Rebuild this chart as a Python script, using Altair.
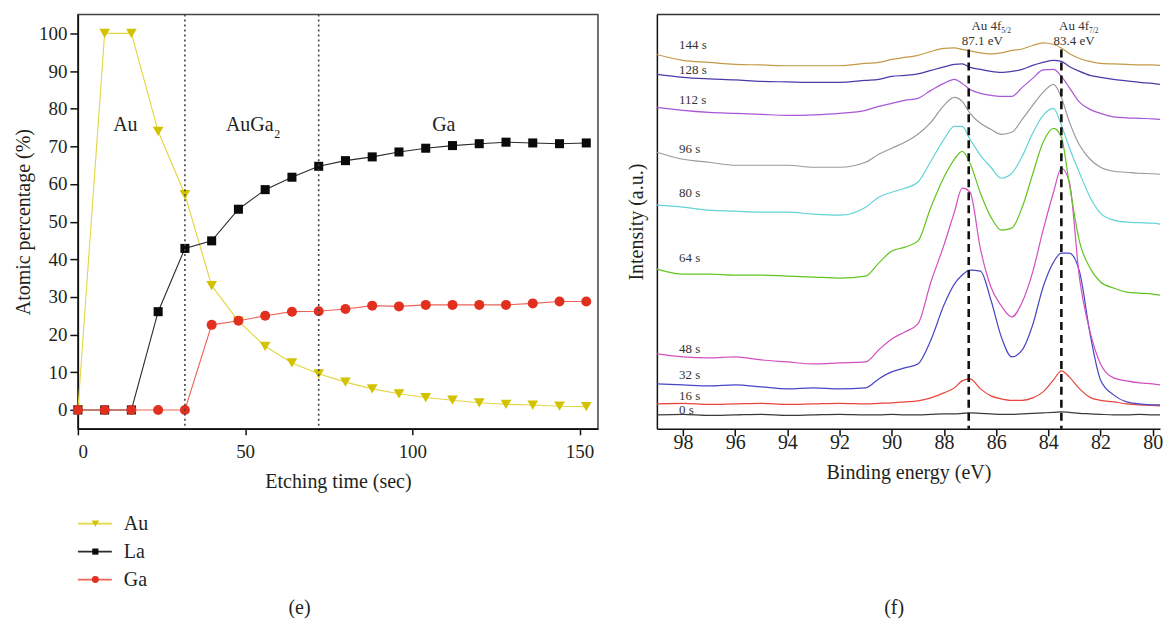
import altair as alt
import pandas as pd

FONT = "Liberation Serif"
INK = "#231f20"

# ---------------- panel (e): depth profile ----------------
etch_time = [0, 8, 16, 24, 32, 40, 48, 56, 64, 72, 80, 88, 96, 104, 112, 120, 128, 136, 144, 152]
au_pct = [0, 100, 100, 74.0, 57.2, 33.0, 23.6, 16.9, 12.5, 9.6, 7.4, 5.6, 4.3, 3.3, 2.6, 1.9, 1.5, 1.3, 1.0, 0.9]
la_pct = [0, 0, 0, 26.1, 42.9, 44.9, 53.3, 58.5, 61.8, 64.7, 66.2, 67.2, 68.5, 69.5, 70.2, 70.7, 71.1, 70.9, 70.7, 70.9]
ga_pct = [0, 0, 0, 0, 0, 22.6, 23.7, 25.0, 26.1, 26.2, 26.8, 27.7, 27.5, 27.9, 27.9, 27.9, 27.9, 28.3, 28.8, 28.8]
elements = ["Au", "La", "Ga"]
phase_bounds = [32, 72]

el_line = {"Au": "#e3d640", "La": "#2b2b2b", "Ga": "#ee6357"}
el_fill = {"Au": "#d2c200", "La": "#0a0a0a", "Ga": "#e1301f"}
el_shape = {"Au": "triangle-down", "La": "square", "Ga": "circle"}
el_size = {"Au": 115, "La": 82, "Ga": 100}
el_leg_size = {"Au": 55, "La": 38, "Ga": 48}

rows = []
for el, vals in zip(elements, [au_pct, la_pct, ga_pct]):
    for t, v in zip(etch_time, vals):
        rows.append(dict(t=t, pct=v, el=el, lc=el_line[el], fc=el_fill[el],
                         shp=el_shape[el], sz=el_size[el]))
df_e = pd.DataFrame(rows)

W_E, H = 521, 415

xe = alt.X("t:Q", scale=alt.Scale(domain=[0, 155.5], nice=False, zero=False),
           axis=alt.Axis(values=[0, 50, 100, 150], title="Etching time (sec)",
                         tickSize=6, labelPadding=8, titlePadding=10, labelFontSize=19))
ye = alt.Y("pct:Q", scale=alt.Scale(domain=[-5, 105], nice=False, zero=False),
           axis=alt.Axis(values=list(range(0, 101, 10)), title="Atomic percentage (%)",
                         tickSize=8, labelPadding=3, titlePadding=5, labelFontSize=19))

base_e = alt.Chart(df_e)
lines_e = base_e.mark_line(strokeWidth=1.1).encode(
    x=xe, y=ye, color=alt.Color("lc:N", scale=None), detail="el:N")
pts_e = base_e.mark_point(filled=True, opacity=1).encode(
    x=xe, y=ye, color=alt.Color("fc:N", scale=None),
    shape=alt.Shape("shp:N", scale=None), size=alt.Size("sz:Q", scale=None))
rules_e = alt.Chart(pd.DataFrame({"t": phase_bounds})).mark_rule(
    strokeDash=[2, 3], strokeWidth=1.6, color="#444").encode(x="t:Q")

txt_kw = dict(font=FONT, fontSize=20, color=INK, baseline="alphabetic")
one = pd.DataFrame({"k": [0]})
ph_au = alt.Chart(one).mark_text(align="center", text="Au", **txt_kw).encode(
    x=alt.datum(14.2), y=alt.datum(74.0))
ph_auga = alt.Chart(one).mark_text(align="right", text="AuGa", **txt_kw).encode(
    x=alt.datum(58.5), y=alt.datum(74.0))
ph_auga_sub = alt.Chart(one).mark_text(align="left", text="2", font=FONT, fontSize=12,
                                        color=INK, baseline="alphabetic").encode(
    x=alt.datum(58.7), y=alt.datum(72.3))
ph_ga = alt.Chart(one).mark_text(align="center", text="Ga", **txt_kw).encode(
    x=alt.datum(109.4), y=alt.datum(74.0))

main_e = alt.layer(lines_e, pts_e, rules_e, ph_au, ph_auga, ph_auga_sub, ph_ga)

# legend drawn from the element list
df_leg = pd.DataFrame({"el": elements,
                       "lc": [el_line[e] for e in elements],
                       "fc": [el_fill[e] for e in elements],
                       "shp": [el_shape[e] for e in elements],
                       "sz": [el_leg_size[e] for e in elements]})
leg_y = alt.Y("el:N", scale=alt.Scale(type="point", domain=elements, range=[510, 566], padding=0),
              axis=None)
leg_base = alt.Chart(df_leg)
leg_rule = leg_base.mark_rule(strokeWidth=1.8).encode(
    x=alt.value(0), x2=alt.value(34), y=leg_y, color=alt.Color("lc:N", scale=None))
leg_pt = leg_base.mark_point(filled=True, opacity=1).encode(
    x=alt.value(17.5), y=leg_y, color=alt.Color("fc:N", scale=None),
    shape=alt.Shape("shp:N", scale=None), size=alt.Size("sz:Q", scale=None))
leg_txt = leg_base.mark_text(align="left", baseline="middle", font=FONT, fontSize=20, color=INK).encode(
    x=alt.value(46), y=leg_y, text="el:N")
cap_e = alt.Chart(pd.DataFrame({"cap": ["(e)"]})).mark_text(
    font=FONT, fontSize=20, color=INK, baseline="middle").encode(
    x=alt.value(222), y=alt.value(595), text="cap:N")

panel_e = alt.layer(main_e, alt.layer(leg_rule, leg_pt, leg_txt, cap_e)).resolve_scale(
    y="independent").properties(width=W_E, height=H,
                                view=alt.ViewBackground(stroke="#444", strokeWidth=1.5))

# ---------------- panel (f): XPS Au 4f spectra ----------------
ev_grid = [99, 98, 97, 96, 95, 94, 93, 92, 91, 90.5, 90, 89.5, 89, 88.5, 88, 87.6, 87.3, 87.0,
           86.6, 86.2, 85.8, 85.4, 85.0, 84.6, 84.2, 83.8, 83.5, 83.2, 82.8, 82.4, 82.0, 81.5,
           81, 80.5, 80, 79.72]
spec_times = ["0 s", "16 s", "32 s", "48 s", "64 s", "80 s", "96 s", "112 s", "128 s", "144 s"]
s0 = [14, 14.5, 13.5, 14, 14.5, 13.5, 14, 14.5, 14, 14, 14.5, 14, 14, 14.5, 15, 15, 15.5, 16,
      15.5, 15, 14.5, 14.5, 15, 15.5, 16, 16.5, 17, 16.5, 15.5, 15, 14.5, 14, 14, 14.5, 14, 14]
s16 = [25, 25.5, 24.5, 25, 25.5, 24.5, 25, 25.5, 25, 25.5, 26, 27, 28, 31, 36, 41, 48, 50,
       40, 33, 30, 28.5, 28.5, 31, 37, 49, 58, 52, 40, 31.5, 28.5, 27, 25, 24, 23.5, 23]
s32 = [45, 44, 43, 44, 42, 40, 41, 40, 41, 50, 57, 61, 65, 89, 124, 145, 154, 159,
       158, 129, 92, 72, 79, 104, 142, 167, 176, 176, 157, 95, 49, 34, 27, 25, 24, 24]
s48 = [75, 72, 71, 72, 69, 67, 65, 66, 67, 79, 90, 97, 105, 147, 184, 217, 241, 237,
       180, 142, 123, 112, 127, 157, 199, 237, 261, 248, 150, 97, 65, 51, 48, 46, 45, 44]
s64 = [160, 155, 155, 154, 154, 153, 152, 151, 153, 166, 178, 182, 188, 222, 252, 270, 278, 266,
       236, 212, 199, 201, 222, 255, 287, 301, 292, 246, 187, 161, 147, 141, 137, 136, 135, 134]
s80 = [224, 222, 219, 218, 217, 217, 215, 214, 222, 232, 237, 241, 247, 268, 290, 303, 303, 290,
       274, 262, 251, 256, 273, 296, 314, 321, 304, 282, 256, 232, 216, 209, 207, 206.5, 206, 205]
s96 = [277, 270, 267, 264, 264, 264, 262, 262, 267, 275, 281, 287, 295, 307, 324, 332, 328, 316,
       306, 300, 295, 297, 310, 324, 337, 345, 332, 308, 284, 270, 262, 258, 257, 256, 255.5, 255]
s112 = [322, 319, 317, 316, 315, 314, 314.5, 316, 319, 323, 326, 329, 331, 339, 346, 350, 346, 340,
        336, 334, 333, 333, 342, 351, 359.5, 360, 353, 342, 327, 320, 316, 312.5, 311.5, 311, 310.5, 310]
s128 = [355, 352, 350.5, 349.5, 348, 347.5, 347, 347, 349, 350, 353, 354, 355.5, 359, 362.5, 365, 365.5, 362,
        360, 358, 357, 358, 360, 364, 367, 369, 368, 363, 358, 354, 352, 350, 348.5, 347, 346, 345]
s144 = [375, 369, 367, 365, 364.5, 363.7, 363.7, 363.7, 366, 367, 370, 372, 374, 378, 381, 381.5, 380, 378.5,
        376.5, 375.5, 376.5, 379, 380.5, 384, 386.5, 385, 381.5, 376, 371, 368, 366, 365.5, 365, 364.5, 364.5, 364]
spectra = [s0, s16, s32, s48, s64, s80, s96, s112, s128, s144]
spec_colors = ["#3a3a3a", "#e8463c", "#4646c4", "#d24fbf", "#62c41e", "#63d3d8",
               "#9a9a9a", "#a957d6", "#4a3aa8", "#c49a48"]
label_height = [19, 33, 54, 80, 171, 236, 280, 329, 359, 384]
LABEL_EV = 98.15

peak_pos = [87.05, 83.5]
peak_main = ["Au 4f", "Au 4f"]
peak_sub = ["5/2", "7/2"]
peak_energy = ["87.1 eV", "83.4 eV"]
peak_join = [85.80, 82.44]
peak_center = [86.53, 83.01]

rows = []
for name, col, vals in zip(spec_times, spec_colors, spectra):
    assert len(vals) == len(ev_grid)
    for e, v in zip(ev_grid, vals):
        rows.append(dict(ev=e, inten=v, run=name, col=col))
df_f = pd.DataFrame(rows)

W_F = 504
xf = alt.X("ev:Q", scale=alt.Scale(domain=[79.72, 99.0], reverse=True, nice=False, zero=False),
           axis=alt.Axis(values=[98, 96, 94, 92, 90, 88, 86, 84, 82, 80], title="Binding energy (eV)",
                         tickSize=7, labelPadding=-3, titlePadding=10, labelFontSize=20))
yf = alt.Y("inten:Q", scale=alt.Scale(domain=[0, 415], nice=False, zero=False),
           axis=alt.Axis(title="Intensity (a.u.)", labels=False, ticks=False, titlePadding=10))

spec_lines = alt.Chart(df_f).mark_line(strokeWidth=1.2, interpolate="monotone").encode(
    x=xf, y=yf, color=alt.Color("col:N", scale=None), detail="run:N")

df_lab = pd.DataFrame({"run": spec_times, "ev": [LABEL_EV] * len(spec_times), "inten": label_height})
spec_labels = alt.Chart(df_lab).mark_text(align="left", baseline="middle", font=FONT,
                                           fontSize=13, color="#333").encode(
    x="ev:Q", y="inten:Q", text="run:N")

df_peak = pd.DataFrame({"ev": peak_pos, "main": peak_main, "sub": peak_sub, "energy": peak_energy,
                        "join": peak_join, "center": peak_center})
peak_rules = alt.Chart(df_peak).mark_rule(strokeDash=[8, 5], strokeWidth=2.6, color="#111").encode(
    x="ev:Q", y=alt.datum(380), y2=alt.datum(0))
peak_t1 = alt.Chart(df_peak).mark_text(align="right", baseline="alphabetic", font=FONT, fontSize=13,
                                        color="#333").encode(
    x="join:Q", y=alt.datum(399.5), text="main:N")
peak_t2 = alt.Chart(df_peak).mark_text(align="left", baseline="alphabetic", font=FONT, fontSize=7.5,
                                        color="#333").encode(
    x="join:Q", y=alt.datum(396.5), text="sub:N")
peak_t3 = alt.Chart(df_peak).mark_text(align="center", baseline="alphabetic", font=FONT, fontSize=13,
                                        color="#333").encode(
    x="center:Q", y=alt.datum(384), text="energy:N")

top_border = alt.Chart(one).mark_rule(strokeWidth=1.5, color="#333").encode(
    x=alt.value(0), x2=alt.value(W_F), y=alt.value(0))
cap_f = alt.Chart(pd.DataFrame({"cap": ["(f)"]})).mark_text(
    font=FONT, fontSize=20, color=INK, baseline="middle").encode(
    x=alt.value(237.7), y=alt.value(595), text="cap:N")

panel_f = alt.layer(spec_lines, peak_rules, peak_t1, peak_t2, peak_t3, spec_labels,
                    top_border, cap_f).properties(
    width=W_F, height=H, view=alt.ViewBackground(stroke="transparent"))

chart = alt.hconcat(panel_e, panel_f, spacing=27).properties(
    padding={"left": 4, "top": 4, "right": 0, "bottom": 0},
    background="white",
).configure(font=FONT).configure_axis(
    labelFont=FONT, titleFont=FONT, titleFontSize=20, titleFontWeight="normal",
    labelColor=INK, titleColor=INK, domainColor="#111", tickColor="#111",
    domainWidth=1.5, tickWidth=1.5, grid=False,
)

chart.save("out.html", embed_options={"renderer": "svg", "actions": False})
